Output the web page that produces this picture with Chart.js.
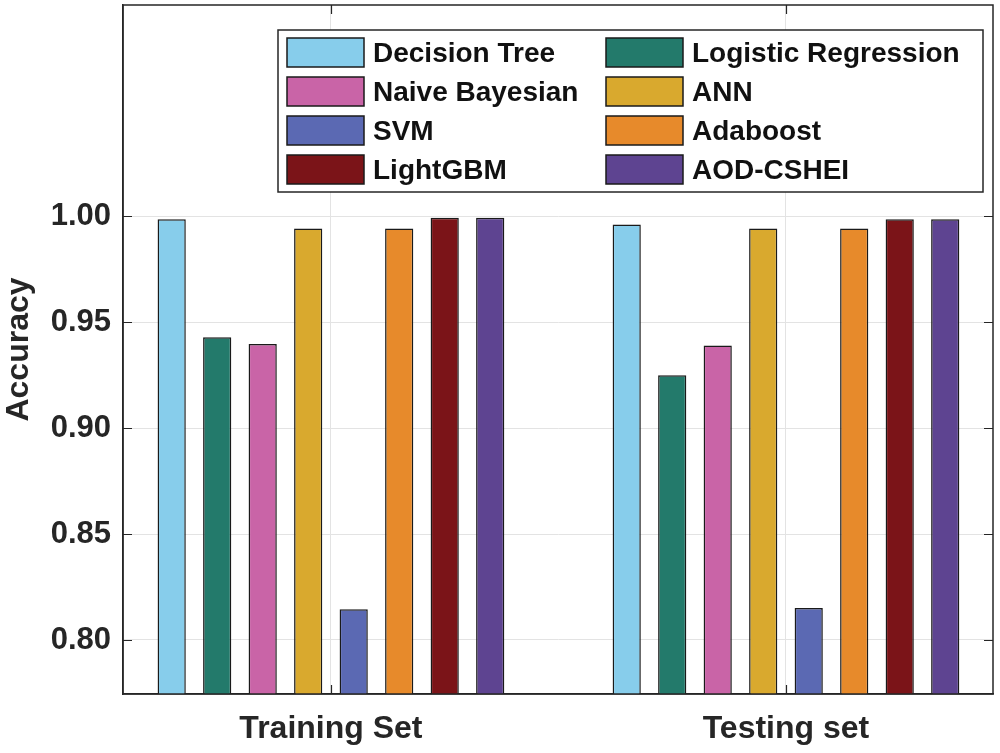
<!DOCTYPE html>
<html>
<head>
<meta charset="utf-8">
<script src="https://cdn.jsdelivr.net/npm/chart.js@4/dist/chart.umd.min.js"></script>
<style>
  html, body { margin: 0; padding: 0; background: #ffffff; }
  #wrap { width: 1000px; height: 753px; position: relative; }
</style>
</head>
<body>
<div id="wrap"><canvas id="c"></canvas></div>
<script>
// ---- data ----
const categories = ['Training Set', 'Testing set'];
const models = ['Decision Tree', 'Logistic Regression', 'Naive Bayesian', 'ANN', 'SVM', 'Adaboost', 'LightGBM', 'AOD-CSHEI'];
const trainAcc = [0.9987, 0.9429, 0.9397, 0.9943, 0.8145, 0.9943, 0.9993, 0.9993];
const testAcc  = [0.9962, 0.9250, 0.9390, 0.9943, 0.8151, 0.9943, 0.9987, 0.9987];
const yTicks = [0.80, 0.85, 0.90, 0.95, 1.00];
const colors = ['#87CDEB', '#237A6B', '#C964A7', '#D9A92E', '#5B69B3', '#E78A2B', '#7B1418', '#5E4491'];

const FONT = "'Liberation Sans', Arial, Helvetica, sans-serif";
const TXT = '#262626';

const datasets = models.map((m, i) => ({
  label: m,
  data: [{ x: 1, y: trainAcc[i] }, { x: 2, y: testAcc[i] }],
  backgroundColor: colors[i],
  borderColor: '#1a1a1a',
  borderWidth: 1.5,
  borderSkipped: false,
  categoryPercentage: 0.8,
  barPercentage: 0.62
}));

const framePlugin = {
  id: 'frame',
  afterDraw(chart) {
    const { ctx, chartArea: a } = chart;
    const ys = chart.scales.y, xs = chart.scales.x;
    ctx.save();
    ctx.strokeStyle = TXT;
    ctx.lineWidth = 1.5;
    ctx.strokeRect(a.left, a.top, a.right - a.left, a.bottom - a.top);
    // inward ticks
    ctx.beginPath();
    yTicks.forEach(v => {
      const y = Math.round(ys.getPixelForValue(v)) + 0.5;
      ctx.moveTo(a.left, y); ctx.lineTo(a.left + 9, y);
      ctx.moveTo(a.right, y); ctx.lineTo(a.right - 9, y);
    });
    [1, 2].forEach(v => {
      const x = Math.round(xs.getPixelForValue(v)) + 0.5;
      ctx.moveTo(x, a.bottom); ctx.lineTo(x, a.bottom - 9);
      ctx.moveTo(x, a.top); ctx.lineTo(x, a.top + 9);
    });
    ctx.lineWidth = 1.2;
    ctx.stroke();

    // legend (2 columns, row-major)
    const box = { x: 278, y: 30, w: 705, h: 162 };
    ctx.fillStyle = '#ffffff';
    ctx.fillRect(box.x, box.y, box.w, box.h);
    ctx.strokeStyle = TXT;
    ctx.lineWidth = 1.5;
    ctx.strokeRect(box.x, box.y, box.w, box.h);
    const colX = [287, 606];
    const sw = 77, sh = 29, rowY0 = 38, pitch = 39;
    ctx.font = 'bold 28px ' + FONT;
    ctx.textBaseline = 'middle';
    ctx.textAlign = 'left';
    chart.data.datasets.forEach((ds, i) => {
      const col = i % 2, row = Math.floor(i / 2);
      const x = colX[col], y = rowY0 + row * pitch;
      ctx.fillStyle = ds.backgroundColor;
      ctx.fillRect(x, y, sw, sh);
      ctx.strokeStyle = '#1a1a1a';
      ctx.lineWidth = 1.5;
      ctx.strokeRect(x, y, sw, sh);
      ctx.fillStyle = '#111111';
      ctx.fillText(ds.label, x + sw + 9, y + sh / 2 + 2);
    });
    ctx.restore();
  }
};

new Chart(document.getElementById('c'), {
  type: 'bar',
  data: { datasets },
  options: {
    responsive: true,
    maintainAspectRatio: false,
    animation: false,
    layout: { padding: { top: 5, right: 7, left: 0, bottom: 0 } },
    plugins: { legend: { display: false }, tooltip: { enabled: false } },
    scales: {
      x: {
        type: 'linear',
        min: 0.543,
        max: 2.455,
        offset: false,
        grid: { offset: false, color: '#e3e3e3', lineWidth: 1, drawTicks: false },
        border: { display: true, color: TXT, width: 1.5 },
        afterBuildTicks: s => { s.ticks = [{ value: 1 }, { value: 2 }]; },
        afterFit: s => { s.height = 59; s.paddingLeft = 0; s.paddingRight = 0; },
        ticks: {
          padding: 16,
          color: TXT,
          font: { family: FONT, size: 32, weight: 'bold' },
          callback: v => categories[v - 1]
        }
      },
      y: {
        min: 0.7745,
        max: 1.0998,
        beginAtZero: false,
        grid: { color: '#e3e3e3', lineWidth: 1, drawTicks: false },
        border: { display: true, color: TXT, width: 1.5 },
        afterBuildTicks: s => { s.ticks = yTicks.map(v => ({ value: v })); },
        afterFit: s => { s.width = 123; s.paddingTop = 0; s.paddingBottom = 0; },
        ticks: {
          padding: 12,
          color: TXT,
          font: { family: FONT, size: 31, weight: 'bold' },
          callback: v => Number(v).toFixed(2)
        },
        title: {
          display: true,
          text: 'Accuracy',
          color: TXT,
          padding: { top: 0, bottom: 0 },
          font: { family: FONT, size: 32, weight: 'bold' }
        }
      }
    }
  },
  plugins: [framePlugin]
});
</script>
</body>
</html>
